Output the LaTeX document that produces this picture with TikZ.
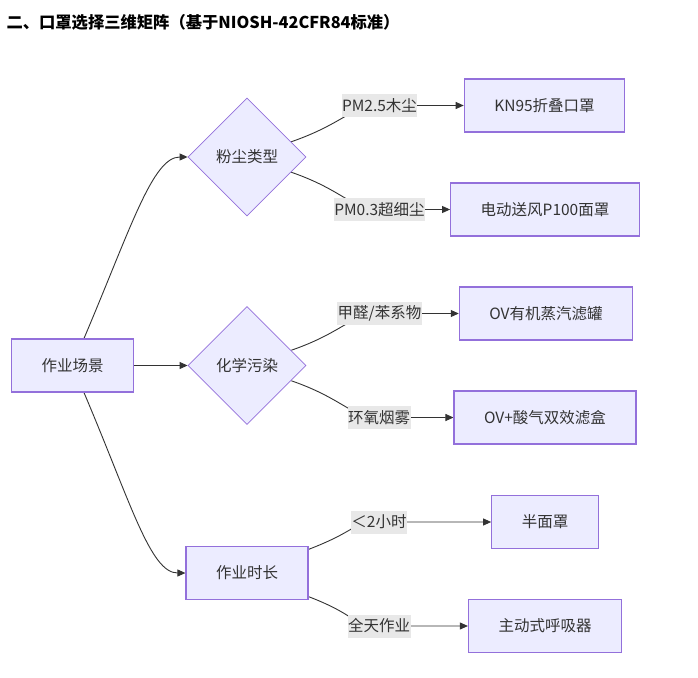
\documentclass[tikz,border=0pt]{standalone}
\usepackage{fontspec}
\setmainfont{Noto Sans CJK SC}
\usetikzlibrary{shapes.geometric,arrows.meta,backgrounds}
\definecolor{nodefill}{HTML}{ECECFF}
\definecolor{nodeline}{HTML}{9370DB}
\definecolor{edgeline}{HTML}{333333}
\definecolor{lblfill}{HTML}{E8E8E8}
\newcommand{\nodefont}{\fontsize{15.5}{18}\selectfont}

\begin{document}
\begin{tikzpicture}[x=1pt,y=-1pt,
		box/.style={draw=nodeline,fill=nodefill,line width=1.2pt,minimum height=53pt,inner xsep=30pt,font=\nodefont,text=edgeline},
		decision/.style={diamond,draw=nodeline,fill=nodefill,line width=0.8pt,minimum width=118pt,minimum height=118pt,inner sep=0pt,font=\nodefont,text=edgeline},
		lbl/.style={fill=lblfill,inner xsep=0.5pt,inner ysep=0pt,minimum height=23pt,font=\nodefont,text=edgeline},
		arr/.style={draw=edgeline,line width=0.9pt,-{Triangle[length=8pt,width=7pt]}},
		flatbend/.style={out distance=55pt,in distance=28pt}]
		%%%%% START %%%%%
		\useasboundingbox (0,0) rectangle (698,677);
		
		\node[anchor=west,font=\fontsize{16.3}{19}\selectfont\bfseries,text=black] (title) at (3,22) {二、口罩选择三维矩阵（基于NIOSH-42CFR84标准）};
		
		\node[box] (scene) at (72.5,365.5) {作业场景};
		
		\node[decision] (dust) at (247,157) {粉尘类型};
		\node[decision] (chem) at (247,365.5) {化学污染};
		\node[box] (time) at (247,573) {作业时长};
		
		\node[box] (kn95) at (544.5,105.5) {KN95折叠口罩};
		\node[box] (papr100) at (545,209.5) {电动送风P100面罩};
		\node[box] (ovcan) at (546,313.5) {OV有机蒸汽滤罐};
		\node[box] (ovacid) at (545,417.5) {OV+酸气双效滤盒};
		\node[box] (half) at (545,522) {半面罩};
		\node[box] (active) at (545,626) {主动式呼吸器};
		
		\node[lbl] (lwood) at (379.5,105.5) {PM2.5木尘};
		\node[lbl] (lfine) at (379.5,209.5) {PM0.3超细尘};
		\node[lbl] (lvoc) at (379.5,313.5) {甲醛/苯系物};
		\node[lbl] (lepoxy) at (379,417.5) {环氧烟雾};
		\node[lbl] (lshort) at (379,522) {＜2小时};
		\node[lbl] (lfull) at (379,626) {全天作业};
		
		\begin{pgfonlayer}{background}
			\draw[arr] (scene) to[out=67,in=180,out distance=120pt,in distance=35pt] (dust);
			\draw[arr] (scene) -- (chem);
			\draw[arr] (scene) to[out=-67,in=180,out distance=120pt,in distance=35pt] (time);
			
			\draw[arr] (dust) to[out=19,in=180,flatbend] (lwood.center) -- (kn95);
			\draw[arr] (dust) to[out=-19,in=180,flatbend] (lfine.center) -- (papr100);
			\draw[arr] (chem) to[out=19,in=180,flatbend] (lvoc.center) -- (ovcan);
			\draw[arr] (chem) to[out=-19,in=180,flatbend] (lepoxy.center) -- (ovacid);
			\draw[arr] (time) to[out=21,in=180,flatbend] (lshort.center) -- (half);
			\draw[arr] (time) to[out=-21,in=180,flatbend] (lfull.center) -- (active);
		\end{pgfonlayer}
		%%%%% END %%%%%
\end{tikzpicture}
\end{document}
